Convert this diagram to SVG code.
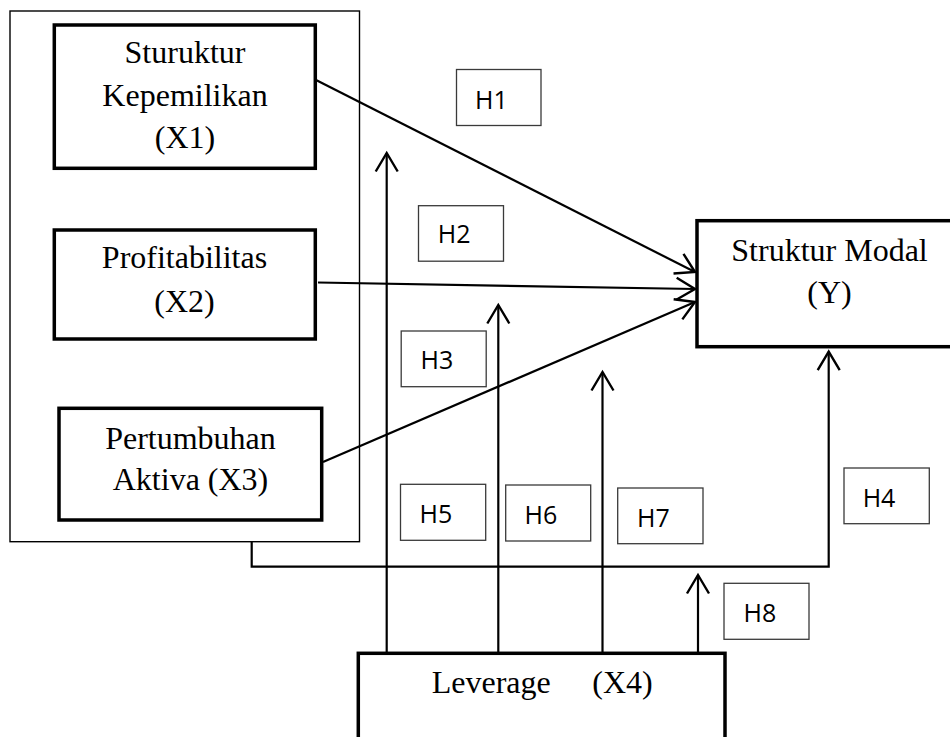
<svg xmlns="http://www.w3.org/2000/svg" width="950" height="737" viewBox="0 0 950 737">
<defs>
<style>
.node{fill:#fff;stroke:#000;stroke-width:3.5}
.frame{fill:none;stroke:#000;stroke-width:1.4}
.hbox{fill:#fff;stroke:#3a3a3a;stroke-width:1.3}
.lbl{font-family:"Liberation Serif","Times New Roman",serif;font-size:32px;fill:#000;text-anchor:middle}
.hl{font-family:"Open Sans","Liberation Sans",sans-serif;font-size:25px;fill:#000}
.ln{fill:none;stroke:#000;stroke-width:2.2}
</style>
<marker id="arr" markerUnits="userSpaceOnUse" orient="auto" markerWidth="30" markerHeight="30" refX="0" refY="0" viewBox="-22 -15 30 30" overflow="visible">
<path d="M-18.5,-11 L0,0 L-18.5,11" fill="none" stroke="#000" stroke-width="2.4"/>
</marker>
</defs>
<rect width="950" height="737" fill="#fff"/>

<g id="frame-x">
<rect class="frame" x="10" y="11" width="349.5" height="530.7"/>
</g>

<g id="connectors">
<line class="ln" x1="316" y1="80" x2="695" y2="272" marker-end="url(#arr)"/>
<line class="ln" x1="318" y1="282.5" x2="695" y2="289" marker-end="url(#arr)"/>
<line class="ln" x1="323" y1="462" x2="695" y2="302" marker-end="url(#arr)"/>
<line class="ln" x1="386.7" y1="653" x2="386.7" y2="153" marker-end="url(#arr)"/>
<line class="ln" x1="498.3" y1="653" x2="498.3" y2="305" marker-end="url(#arr)"/>
<line class="ln" x1="602.5" y1="653" x2="602.5" y2="372" marker-end="url(#arr)"/>
<line class="ln" x1="698" y1="653" x2="698" y2="575" marker-end="url(#arr)"/>
<path class="ln" d="M251.7,541.7 V566.7 H828.7 V351.7" marker-end="url(#arr)"/>
</g>

<g id="x1">
<rect class="node" x="54.3" y="25" width="261" height="143.3"/>
<text class="lbl" x="185" y="63.3">Sturuktur</text>
<text class="lbl" x="185" y="106">Kepemilikan</text>
<text class="lbl" x="185" y="148.3">(X1)</text>
</g>

<g id="x2">
<rect class="node" x="54.3" y="230" width="261" height="109"/>
<text class="lbl" x="184.5" y="268.3">Profitabilitas</text>
<text class="lbl" x="184.5" y="311.7">(X2)</text>
</g>

<g id="x3">
<rect class="node" x="59" y="408.3" width="262.7" height="111.7"/>
<text class="lbl" x="190.5" y="449.3">Pertumbuhan</text>
<text class="lbl" x="190.5" y="490">Aktiva (X3)</text>
</g>

<g id="y">
<rect class="node" x="697" y="220.7" width="262" height="126"/>
<text class="lbl" x="829.5" y="261">Struktur Modal</text>
<text class="lbl" x="829.5" y="303">(Y)</text>
</g>

<g id="x4">
<rect class="node" x="358.3" y="653.3" width="366.7" height="100"/>
<text class="lbl" x="431.7" y="693.3" style="text-anchor:start">Leverage</text>
<text class="lbl" x="592.3" y="693.3" style="text-anchor:start">(X4)</text>
</g>

<g id="h1"><rect class="hbox" x="456.5" y="69.5" width="84.5" height="56"/><text class="hl" x="475" y="109">H1</text></g>
<g id="h2"><rect class="hbox" x="418.5" y="205.7" width="85" height="55.5"/><text class="hl" x="437.8" y="243">H2</text></g>
<g id="h3"><rect class="hbox" x="401.2" y="331" width="85" height="55.7"/><text class="hl" x="420.5" y="369">H3</text></g>
<g id="h4"><rect class="hbox" x="844" y="468" width="85.3" height="55.7"/><text class="hl" x="862.7" y="506.7">H4</text></g>
<g id="h5"><rect class="hbox" x="400.5" y="484.3" width="85.2" height="56"/><text class="hl" x="419.5" y="523.3">H5</text></g>
<g id="h6"><rect class="hbox" x="505.7" y="485" width="85" height="56"/><text class="hl" x="524.5" y="523.5">H6</text></g>
<g id="h7"><rect class="hbox" x="617.7" y="488" width="85.3" height="55.7"/><text class="hl" x="637" y="526.7">H7</text></g>
<g id="h8"><rect class="hbox" x="724" y="583.3" width="85" height="56"/><text class="hl" x="743.5" y="621.7">H8</text></g>
</svg>
